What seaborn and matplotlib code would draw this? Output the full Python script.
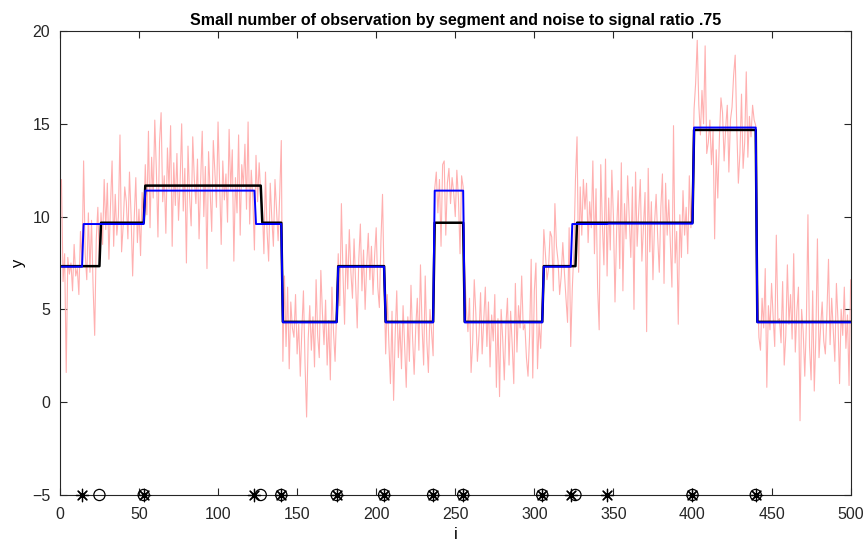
import numpy as np
import pandas as pd
import matplotlib
matplotlib.use("Agg")
import matplotlib.pyplot as plt
import seaborn as sns

# ---- data ----
# true signal: segment boundaries (circles) and levels (black line)
true_breaks = [25, 53, 127, 140, 175, 205, 236, 255, 305, 326, 400, 440]
true_levels = [7.33, 9.67, 11.67, 9.67, 4.33, 7.33, 4.33, 9.67, 4.33, 7.33, 9.67, 14.67, 4.33]
# estimated signal: change points (asterisks) and levels (blue line)
est_breaks = [14, 53, 123, 140, 175, 205, 236, 255, 305, 323, 346, 400, 440]
est_levels = [7.3, 9.6, 11.4, 9.6, 4.3, 7.3, 4.3, 11.4, 4.3, 7.3, 9.6, 9.62, 14.8, 4.3]

# noisy observations (pink line), read segment by segment
obs_seg01 = [12.0, 6.5, 8.0, 1.6, 7.8, 6.9, 7.5, 6.0, 8.5, 6.8,
             7.2, 5.8, 9.2, 7.5, 13.0, 8.0, 6.6, 10.2, 7.0, 9.8,
             6.2, 3.6, 8.8, 10.5, 7.4]
obs_seg02 = [10.2, 8.5, 12.0, 9.3, 11.8, 7.7, 10.6, 13.0, 8.4, 11.2,
             9.0, 10.0, 14.4, 8.1, 9.5, 11.6, 10.8, 8.8, 12.4, 10.1,
             6.8, 9.9, 12.1, 8.6, 10.4, 7.9, 11.3, 9.6]
obs_seg03 = [12.8, 10.1, 14.6, 9.4, 13.2, 11.0, 15.2, 12.5, 8.9, 14.0,
             15.6, 10.8, 12.2, 9.1, 13.7, 11.5, 14.9, 8.4, 12.9, 10.6,
             13.4, 9.8, 11.8, 15.0, 10.3, 12.6, 7.5, 13.8, 11.1, 9.5,
             14.3, 12.0, 10.7, 13.1, 8.8, 11.9, 14.6, 10.0, 12.7, 7.2,
             13.5, 11.3, 9.2, 14.1, 12.4, 10.5, 15.1, 11.7, 8.5, 13.0,
             10.9, 12.3, 9.7, 14.7, 11.4, 13.6, 7.6, 12.1, 10.2, 14.4,
             9.0, 12.8, 11.6, 13.9, 10.4, 15.1, 9.6, 12.5, 11.0, 8.2,
             13.3, 10.8, 12.9, 11.2]
obs_seg04 = [10.5, 8.0, 12.4, 9.2, 7.6, 11.8, 9.9, 8.4, 12.0, 10.3,
             8.7, 11.2, 14.1]
obs_seg05 = [2.2, 6.8, 3.0, 6.2, 1.8, 5.4, 4.0, 3.5, 5.8, 2.6,
             4.2, 1.4, 3.9, 6.0, 2.1, -0.8, 3.4, 5.2, 2.8, 4.6,
             1.9, 6.6, 3.6, 2.4, 7.1, 4.8, 3.1, 5.5, 2.0, 4.4,
             1.2, 6.2, 3.8, 2.2, 5.0]
obs_seg06 = [8.0, 5.2, 10.7, 6.9, 4.2, 8.5, 6.1, 9.3, 7.0, 5.6,
             8.8, 6.4, 4.0, 7.7, 9.6, 6.0, 8.2, 5.0, 7.4, 9.1,
             6.6, 8.4, 5.8, 7.9, 9.4, 6.2, 5.1, 8.7, 11.2, 6.5]
obs_seg07 = [2.6, 5.8, 3.2, 1.0, 4.9, 0.1, 3.6, 6.0, 2.4, 4.2,
             1.8, 5.2, 3.0, 0.8, 4.6, 2.2, 6.3, 3.5, 1.5, 4.0,
             5.6, 2.8, 7.4, 4.1, 2.0, 6.8, 3.3, 1.6, 5.0, 3.8,
             2.5]
obs_seg08 = [11.5, 12.4, 10.2, 12.0, 8.4, 12.8, 13.0, 9.0, 11.8, 12.6,
             10.7, 12.1, 11.3, 10.0, 12.5, 11.0, 8.0, 12.2, 11.6]
obs_seg09 = [7.0, 5.0, 3.8, 5.6, 1.6, 3.2, 6.6, 4.8, 2.2, 3.6,
             5.9, 2.6, 4.4, 6.2, 3.0, 5.4, 1.9, 4.7, 3.3, 5.8,
             0.8, 4.5, 0.3, 5.0, 3.4, 1.2, 4.1, 5.6, 2.0, 4.9,
             3.1, 1.0, 6.4, 2.7, 5.2, 4.0, 6.8, 3.9, 4.2, 2.4,
             1.4, 3.6, 7.7, 1.3, 6.0, 7.5, 1.8, 4.3, 2.9, 5.5]
obs_seg10 = [9.3, 8.0, 6.6, 7.2, 9.2, 8.9, 6.0, 10.7, 8.4, 7.6,
             5.8, 6.8, 8.6, 7.0, 5.6, 4.3, 9.4, 3.0, 6.1, 8.2,
             12.0]
obs_seg11 = [14.3, 7.0, 11.6, 9.0, 12.0, 10.4, 11.8, 8.6, 10.8, 9.4,
             13.0, 8.0, 11.5, 6.2, 3.9, 12.8, 9.6, 7.4, 13.1, 6.8,
             11.0, 8.2, 12.5, 10.0, 5.4, 9.2, 11.4, 7.2, 12.9, 6.0,
             10.7, 8.8, 12.2, 9.9, 7.8, 11.6, 5.0, 12.4, 8.4, 10.3,
             12.0, 7.6, 9.5, 11.3, 3.8, 12.6, 8.1, 10.8, 6.6, 9.6,
             11.2, 8.9, 7.0, 10.5, 12.3, 6.4, 11.8, 9.0, 10.9, 8.6,
             6.2, 14.9, 7.5, 9.2, 4.2, 10.1, 7.8, 11.4, 9.0, 10.5,
             8.0, 12.2, 9.4, 11.6]
obs_seg12 = [15.8, 17.2, 19.5, 16.0, 14.4, 16.8, 15.0, 19.2, 13.4, 14.0,
             15.2, 12.8, 14.6, 8.8, 13.6, 11.0, 14.2, 16.4, 15.6, 13.0,
             14.8, 16.0, 12.4, 15.2, 15.9, 17.6, 18.7, 14.8, 11.8, 13.4,
             16.6, 12.6, 14.0, 17.8, 13.2, 15.4, 14.3, 16.0, 15.2, 14.9]
obs_seg13 = [6.8, 3.5, 2.8, 5.6, 4.0, 7.2, 0.8, 5.2, 3.9, 6.4,
             4.6, 3.0, 9.0, 4.4, 4.5, 3.2, 6.5, 2.0, 3.6, 7.4,
             4.2, 5.8, 3.4, 8.0, 2.7, 4.9, 6.2, -1.0, 5.0, 3.8,
             1.4, 4.2, 10.1, 3.0, 1.2, 6.0, 0.6, 3.5, 8.8, 2.4,
             4.0, 5.4, 3.3, 2.6, 4.8, 7.7, 3.1, 5.6, 3.9, 2.2,
             6.4, 4.4, 1.0, 5.0, 3.6, 6.2, 2.9, 4.7, 0.9, 6.6]

title_text = "Small number of observation by segment and noise to signal ratio .75"
x_ticks = [0, 50, 100, 150, 200, 250, 300, 350, 400, 450, 500]
y_ticks = [-5, 0, 5, 10, 15, 20]
marker_level = -5

# ---- assemble ----
obs = np.array(obs_seg01 + obs_seg02 + obs_seg03 + obs_seg04 + obs_seg05 +
               obs_seg06 + obs_seg07 + obs_seg08 + obs_seg09 + obs_seg10 +
               obs_seg11 + obs_seg12 + obs_seg13)
n = len(obs)
idx = np.arange(1, n + 1)


def steps(breaks, levels, n):
    edges = [0] + list(breaks) + [n]
    return np.concatenate([np.full(edges[k + 1] - edges[k], levels[k])
                           for k in range(len(levels))])


true_sig = steps(true_breaks, true_levels, n)
est_sig = steps(est_breaks, est_levels, n)

df = pd.DataFrame({"i": idx, "obs": obs, "true": true_sig, "est": est_sig})
df_true_cp = pd.DataFrame({"i": true_breaks, "y": [marker_level] * len(true_breaks)})
df_est_cp = pd.DataFrame({"i": est_breaks, "y": [marker_level] * len(est_breaks)})

sns.set_style("white")
plt.rcParams["font.family"] = ["Liberation Sans", "DejaVu Sans"]

fig = plt.figure(figsize=(8.68, 5.52), dpi=100)
ax = fig.add_axes([0.069, 0.1033, 0.911, 0.8405])

sns.lineplot(data=df, x="i", y="obs", ax=ax, color="#ffb0b0", linewidth=0.8,
             estimator=None, sort=False)
sns.lineplot(data=df, x="i", y="true", ax=ax, color="black", linewidth=1.8,
             estimator=None, sort=False)
sns.lineplot(data=df, x="i", y="est", ax=ax, color="#0000ff", linewidth=1.4,
             estimator=None, sort=False)

sns.scatterplot(data=df_est_cp, x="i", y="y", ax=ax, marker=(8, 2, 0), s=80,
                color="black", linewidth=0.9, clip_on=False, zorder=5)
sns.scatterplot(data=df_true_cp, x="i", y="y", ax=ax, marker="o", s=65,
                facecolors="none", edgecolor="black", linewidth=0.9,
                clip_on=False, zorder=5)

ax.set_xlim(0, 500)
ax.set_ylim(-5, 20)
ax.set_xticks(x_ticks)
ax.set_yticks(y_ticks)
ax.set_xlabel("i", fontsize=12, labelpad=3, color="black")
ax.set_ylabel("y", fontsize=12, labelpad=4, color="black")
ax.set_title(title_text, fontsize=11.5, fontweight="bold", pad=4, color="black")

for sp in ax.spines.values():
    sp.set_visible(True)
    sp.set_color("#262626")
    sp.set_linewidth(0.8)
ax.tick_params(direction="in", length=5, width=0.8, color="#262626",
               labelsize=11.5, top=True, right=True, bottom=True, left=True,
               labelcolor="#262626")
ax.tick_params(axis="x", pad=9)
ax.tick_params(axis="y", pad=7)

fig.savefig("out.png", dpi=100)
